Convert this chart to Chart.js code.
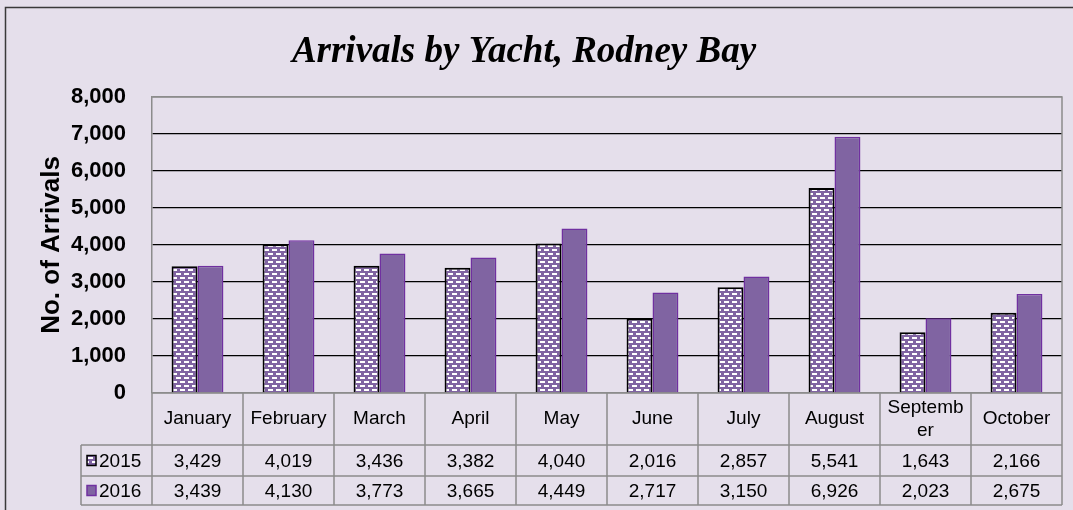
<!DOCTYPE html>
<html>
<head>
<meta charset="utf-8">
<script src="https://cdn.jsdelivr.net/npm/chart.js"></script>
<style>
  html, body { margin: 0; padding: 0; background: #e5dfeb; }
  #wrap { width: 1073px; height: 510px; }
</style>
</head>
<body>
<div id="wrap"><canvas id="yachtChart" width="1073" height="510"></canvas></div>
<script>
// Monthly arrivals by yacht
const months = ["January", "February", "March", "April", "May", "June", "July", "August", "September", "October"];
// how the month names wrap in the table header
const monthLines = [["January"], ["February"], ["March"], ["April"], ["May"], ["June"], ["July"], ["August"], ["Septemb", "er"], ["October"]];
const arrivals2015 = [3429, 4019, 3436, 3382, 4040, 2016, 2857, 5541, 1643, 2166];
const arrivals2016 = [3439, 4130, 3773, 3665, 4449, 2717, 3150, 6926, 2023, 2675];
const seriesNames = ["2015", "2016"];
const yTicks = [0, 1000, 2000, 3000, 4000, 5000, 6000, 7000, 8000];
const chartTitle = "Arrivals by Yacht, Rodney Bay";

const BG = "#e5dfeb";
const PURPLE = "#8064a2";
const DARK_PURPLE = "#7030a0";
const TABLE_LINE = "#8c8c8c";

// white dash pattern on purple for 2015
function makePattern() {
  const c = document.createElement("canvas");
  c.width = 8;
  c.height = 8;
  const p = c.getContext("2d");
  p.fillStyle = PURPLE;
  p.fillRect(0, 0, 8, 8);
  p.fillStyle = "#ffffff";
  p.fillRect(0, 1, 5, 2);
  p.fillRect(4, 5, 4, 2);
  p.fillRect(0, 5, 1, 2);
  return p.createPattern(c, "repeat");
}

function fmt(n) {
  return n.toLocaleString("en-US");
}

const backgroundPlugin = {
  id: "background",
  beforeDraw(chart) {
    const ctx = chart.ctx;
    ctx.save();
    ctx.fillStyle = BG;
    ctx.fillRect(0, 0, chart.width, chart.height);
    // outer frame (only top and left visible)
    ctx.strokeStyle = "#3a3a3a";
    ctx.lineWidth = 1.5;
    ctx.beginPath();
    ctx.moveTo(5.5, chart.height);
    ctx.lineTo(5.5, 7.5);
    ctx.lineTo(chart.width, 7.5);
    ctx.stroke();
    // chart title
    ctx.fillStyle = "#000";
    ctx.font = "italic bold 37px 'Liberation Serif', 'Times New Roman', serif";
    ctx.textAlign = "center";
    ctx.textBaseline = "alphabetic";
    ctx.fillText(chartTitle, 524, 62);
    ctx.restore();
  },
};

// plot frame and data table under the x axis
const tablePlugin = {
  id: "dataTable",
  afterDraw(chart) {
    const ctx = chart.ctx;
    const area = chart.chartArea;
    const x = chart.scales.x;
    const left = area.left;
    const right = area.right;
    const top = area.bottom;
    const headerBottom = top + 52;
    const row1Bottom = headerBottom + 31;
    const row2Bottom = row1Bottom + 29;
    const keyLeft = 81;
    const n = months.length;
    const step = (right - left) / n;

    ctx.save();
    ctx.strokeStyle = TABLE_LINE;
    ctx.lineWidth = 1.5;
    // plot area top and right border
    ctx.beginPath();
    ctx.moveTo(left, area.top);
    ctx.lineTo(right, area.top);
    ctx.lineTo(right, row2Bottom);
    ctx.stroke();

    ctx.beginPath();
    // horizontal lines
    ctx.moveTo(left, top);
    ctx.lineTo(right, top);
    [headerBottom, row1Bottom, row2Bottom].forEach((y) => {
      ctx.moveTo(keyLeft, y);
      ctx.lineTo(right, y);
    });
    // vertical lines
    ctx.moveTo(keyLeft, headerBottom);
    ctx.lineTo(keyLeft, row2Bottom);
    for (let i = 0; i < n; i++) {
      const lx = left + i * step;
      ctx.moveTo(lx, top);
      ctx.lineTo(lx, row2Bottom);
    }
    ctx.stroke();

    ctx.fillStyle = "#000";
    ctx.font = "19px 'Liberation Sans', Arial, sans-serif";
    ctx.textAlign = "center";
    ctx.textBaseline = "middle";
    for (let i = 0; i < n; i++) {
      const cx = x.getPixelForValue(i);
      const lines = monthLines[i];
      const lh = 23;
      const y0 = (top + headerBottom) / 2 - ((lines.length - 1) * lh) / 2;
      lines.forEach((t, k) => ctx.fillText(t, cx, y0 + k * lh));
      ctx.fillText(fmt(arrivals2015[i]), cx, (headerBottom + row1Bottom) / 2 + 1);
      ctx.fillText(fmt(arrivals2016[i]), cx, (row1Bottom + row2Bottom) / 2 + 1);
    }

    // legend keys
    const rows = [(headerBottom + row1Bottom) / 2, (row1Bottom + row2Bottom) / 2];
    const styles = [
      { fill: chart.data.datasets[0].backgroundColor, stroke: "#000" },
      { fill: PURPLE, stroke: DARK_PURPLE },
    ];
    ctx.textAlign = "left";
    rows.forEach((cy, k) => {
      ctx.fillStyle = styles[k].fill;
      ctx.fillRect(87, cy - 5, 9, 10);
      ctx.strokeStyle = styles[k].stroke;
      ctx.lineWidth = 1.5;
      ctx.strokeRect(87, cy - 5, 9, 10);
      ctx.fillStyle = "#000";
      ctx.fillText(seriesNames[k], 99, cy + 1);
    });
    ctx.restore();
  },
};

function createChart() {
  const ctx = document.getElementById("yachtChart");
  const pattern = makePattern();

  const data = {
    labels: months,
    datasets: [
      {
        label: seriesNames[0],
        data: arrivals2015,
        backgroundColor: pattern,
        borderColor: "#000000",
        borderWidth: 2,
      },
      {
        label: seriesNames[1],
        data: arrivals2016,
        backgroundColor: PURPLE,
        borderColor: DARK_PURPLE,
        borderWidth: 1.5,
      },
    ],
  };

  const config = {
    type: "bar",
    data: data,
    options: {
      responsive: false,
      animation: false,
      layout: {
        padding: { top: 97, right: 11, bottom: 117, left: 0 },
      },
      datasets: {
        bar: { categoryPercentage: 0.57, barPercentage: 1.0 },
      },
      scales: {
        x: {
          display: false,
        },
        y: {
          min: 0,
          max: 8000,
          afterFit(scale) {
            scale.width = 152;
          },
          afterBuildTicks(scale) {
            scale.ticks = yTicks.map((v) => ({ value: v }));
          },
          ticks: {
            padding: 26,
            color: "#000",
            font: { family: "'Liberation Sans', Arial, sans-serif", size: 22, weight: "bold" },
            callback: (v) => fmt(v),
          },
          grid: {
            drawTicks: false,
            lineWidth: 1.2,
            color: (c) => (c.tick && (c.tick.value === 0 || c.tick.value === 8000) ? TABLE_LINE : "#000"),
          },
          border: { color: TABLE_LINE, width: 1.5 },
          title: {
            display: true,
            text: "No. of Arrivals",
            color: "#000",
            padding: { top: 36, bottom: 0 },
            font: { family: "'Liberation Sans', Arial, sans-serif", size: 26, weight: "bold" },
          },
        },
      },
      plugins: {
        legend: { display: false },
        tooltip: { enabled: false },
        title: { display: false },
      },
    },
    plugins: [backgroundPlugin, tablePlugin],
  };

  new Chart(ctx.getContext("2d"), config);
}

createChart();
</script>
</body>
</html>
